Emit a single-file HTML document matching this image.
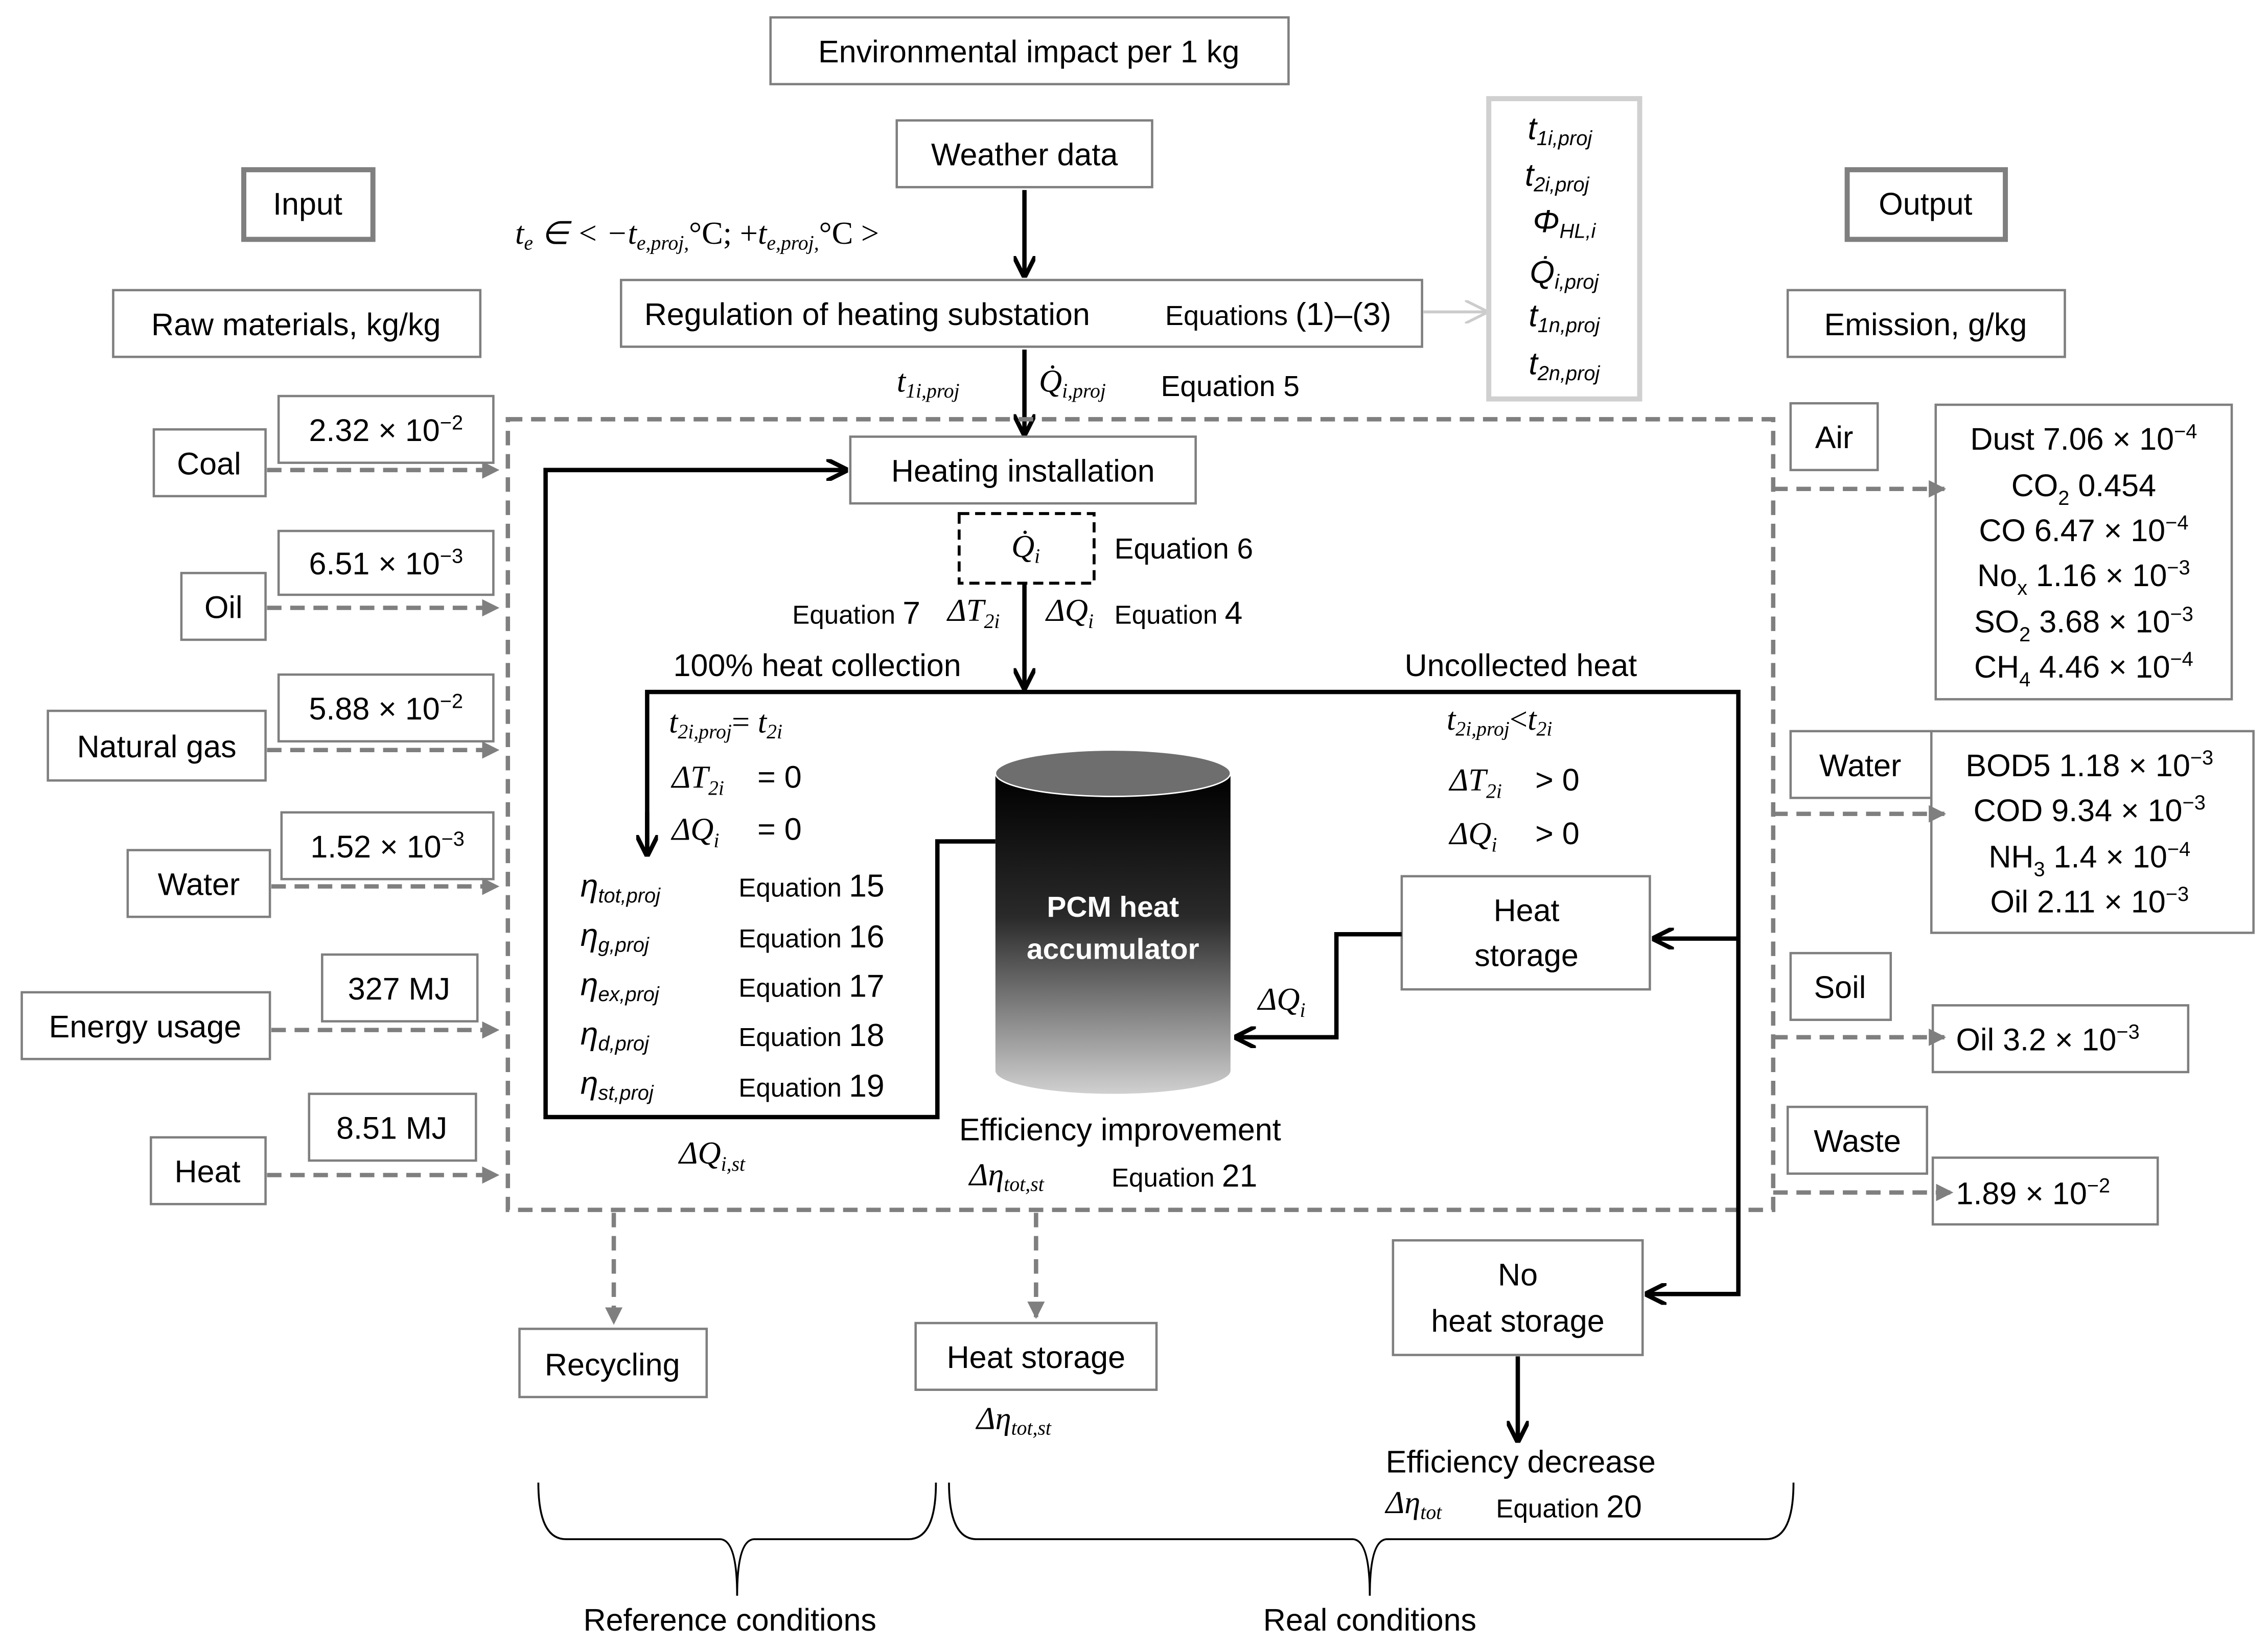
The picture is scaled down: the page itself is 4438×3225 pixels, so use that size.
<!DOCTYPE html>
<html><head><meta charset="utf-8"><style>
html,body{margin:0;padding:0;background:#fff}
svg{display:block}
text{font-family:"Liberation Sans",sans-serif;fill:#000}
.m{font-family:"Liberation Serif",serif;font-style:italic}
.b{fill:#fff;stroke:#7f7f7f;stroke-width:1.6}
.d{stroke:#7f7f7f;stroke-width:3;stroke-dasharray:10 6;fill:none}
.k{stroke:#000;stroke-width:3;fill:none}
</style></head><body>
<svg width="4438" height="3225" viewBox="0 0 1563 1136" preserveAspectRatio="none" xmlns="http://www.w3.org/2000/svg">
<defs>
<marker id="ak" viewBox="0 0 10 10" refX="9" refY="5" markerWidth="5" markerHeight="5" orient="auto"><path d="M0,0 L10,5 L0,10" fill="none" stroke="#000" stroke-width="2"/></marker>
<marker id="ag" viewBox="0 0 10 10" refX="9" refY="5" markerWidth="4" markerHeight="4" orient="auto"><path d="M0,0 L10,5 L0,10 z" fill="#7f7f7f"/></marker>
<marker id="al" viewBox="0 0 10 10" refX="9" refY="5" markerWidth="8" markerHeight="8" orient="auto"><path d="M0,0 L10,5 L0,10" fill="none" stroke="#ccc" stroke-width="1.2"/></marker>
<linearGradient id="cg" x1="0" y1="0" x2="0" y2="1"><stop offset="0" stop-color="#000"/><stop offset="0.45" stop-color="#2a2a2a"/><stop offset="1" stop-color="#d0d0d0"/></linearGradient>
</defs>
<g font-size="21.5">
<rect class="b" x="531" y="12" width="357" height="46"/><text x="709" y="43" text-anchor="middle">Environmental impact per 1 kg</text>
<rect class="b" x="618" y="83" width="176" height="46"/><text x="706" y="114" text-anchor="middle">Weather data</text>
<rect class="b" x="168" y="117" width="89" height="48" style="stroke-width:3.5"/><text x="212" y="148" text-anchor="middle">Input</text>
<rect class="b" x="1273" y="117" width="109" height="48" style="stroke-width:3.5"/><text x="1327" y="148" text-anchor="middle">Output</text>
<text x="355" y="168" class="m" font-size="22">t<tspan font-size="14" dy="4">e</tspan><tspan dy="-4"> ∈ &lt; −t</tspan><tspan font-size="14" dy="4">e,proj,</tspan><tspan dy="-4" font-style="normal">°C; +</tspan>t<tspan font-size="14" dy="4">e,proj,</tspan><tspan dy="-4" font-style="normal">°C &gt;</tspan></text>
<line class="k" x1="706" y1="131" x2="706" y2="190" marker-end="url(#ak)"/>
<rect class="b" x="428" y="193" width="552" height="46"/><text x="444" y="224">Regulation of heating substation</text><text x="803" y="224" font-size="19">Equations <tspan font-size="22">(1)–(3)</tspan></text>
<line x1="981" y1="215" x2="1024" y2="215" stroke="#ccc" stroke-width="2" marker-end="url(#al)"/>
<rect x="1026" y="68" width="104" height="207" fill="#fff" stroke="#d0d0d0" stroke-width="3.5"/>
<g class="m" font-size="22" text-anchor="middle">
<text x="1075" y="96">t<tspan font-size="14" dy="4">1i,proj</tspan></text>
<text x="1073" y="128">t<tspan font-size="14" dy="4">2i,proj</tspan></text>
<text x="1078" y="160">Φ<tspan font-size="14" dy="4">HL,i</tspan></text>
<text x="1078" y="195">Q̇<tspan font-size="14" dy="4">i,proj</tspan></text>
<text x="1078" y="225">t<tspan font-size="14" dy="4">1n,proj</tspan></text>
<text x="1078" y="258">t<tspan font-size="14" dy="4">2n,proj</tspan></text>
</g>
<rect class="b" x="78" y="200" width="253" height="46"/><text x="204" y="231" text-anchor="middle">Raw materials, kg/kg</text>
<rect class="b" x="1232" y="200" width="191" height="46"/><text x="1327" y="231" text-anchor="middle">Emission, g/kg</text>
<line class="k" x1="706" y1="241" x2="706" y2="299" marker-end="url(#ak)"/>
<text x="618" y="270" class="m" font-size="22">t<tspan font-size="14" dy="4">1i,proj</tspan></text>
<text x="716" y="270" class="m" font-size="22">Q̇<tspan font-size="14" dy="4">i,proj</tspan></text>
<text x="800" y="273" font-size="20">Equation 5</text>
<rect x="350" y="289" width="872" height="545" class="d"/>
<rect class="b" x="192" y="273" width="148" height="46"/><text x="266" y="304" text-anchor="middle">2.32 × 10<tspan font-size="14" dy="-8">−2</tspan></text>
<rect class="b" x="106" y="296" width="77" height="46"/><text x="144" y="327" text-anchor="middle">Coal</text>
<line class="d" x1="184" y1="324" x2="343" y2="324" marker-end="url(#ag)"/>
<rect class="b" x="192" y="366" width="148" height="44"/><text x="266" y="396" text-anchor="middle">6.51 × 10<tspan font-size="14" dy="-8">−3</tspan></text>
<rect class="b" x="125" y="395" width="58" height="46"/><text x="154" y="426" text-anchor="middle">Oil</text>
<line class="d" x1="184" y1="419" x2="343" y2="419" marker-end="url(#ag)"/>
<rect class="b" x="192" y="465" width="148" height="46"/><text x="266" y="496" text-anchor="middle">5.88 × 10<tspan font-size="14" dy="-8">−2</tspan></text>
<rect class="b" x="33" y="490" width="150" height="48"/><text x="108" y="522" text-anchor="middle">Natural gas</text>
<line class="d" x1="184" y1="517" x2="343" y2="517" marker-end="url(#ag)"/>
<rect class="b" x="194" y="560" width="146" height="46"/><text x="267" y="591" text-anchor="middle">1.52 × 10<tspan font-size="14" dy="-8">−3</tspan></text>
<rect class="b" x="88" y="586" width="98" height="46"/><text x="137" y="617" text-anchor="middle">Water</text>
<line class="d" x1="187" y1="611" x2="343" y2="611" marker-end="url(#ag)"/>
<rect class="b" x="222" y="658" width="107" height="46"/><text x="275" y="689" text-anchor="middle">327 MJ</text>
<rect class="b" x="15" y="684" width="171" height="46"/><text x="100" y="715" text-anchor="middle">Energy usage</text>
<line class="d" x1="187" y1="710" x2="343" y2="710" marker-end="url(#ag)"/>
<rect class="b" x="213" y="754" width="115" height="46"/><text x="270" y="785" text-anchor="middle">8.51 MJ</text>
<rect class="b" x="104" y="784" width="79" height="46"/><text x="143" y="815" text-anchor="middle">Heat</text>
<line class="d" x1="184" y1="810" x2="343" y2="810" marker-end="url(#ag)"/>
<rect class="b" x="1234" y="278" width="60" height="46"/><text x="1264" y="309" text-anchor="middle">Air</text>
<rect class="b" x="1334" y="279" width="204" height="203"/>
<g text-anchor="middle"><text x="1436" y="310">Dust 7.06 × 10<tspan font-size="14" dy="-8">−4</tspan></text>
<text x="1436" y="342">CO<tspan font-size="14" dy="6">2</tspan><tspan dy="-6"> 0.454</tspan></text>
<text x="1436" y="373">CO 6.47 × 10<tspan font-size="14" dy="-8">−4</tspan></text>
<text x="1436" y="404">No<tspan font-size="14" dy="6">x</tspan><tspan dy="-6"> 1.16 × 10</tspan><tspan font-size="14" dy="-8">−3</tspan></text>
<text x="1436" y="436">SO<tspan font-size="14" dy="6">2</tspan><tspan dy="-6"> 3.68 × 10</tspan><tspan font-size="14" dy="-8">−3</tspan></text>
<text x="1436" y="467">CH<tspan font-size="14" dy="6">4</tspan><tspan dy="-6"> 4.46 × 10</tspan><tspan font-size="14" dy="-8">−4</tspan></text></g>
<line class="d" x1="1222" y1="337" x2="1340" y2="337" marker-end="url(#ag)"/>
<rect class="b" x="1234" y="504" width="97" height="46"/><text x="1282" y="535" text-anchor="middle">Water</text>
<rect class="b" x="1331" y="504" width="222" height="139"/>
<g text-anchor="middle"><text x="1440" y="535">BOD5 1.18 × 10<tspan font-size="14" dy="-8">−3</tspan></text>
<text x="1440" y="566">COD 9.34 × 10<tspan font-size="14" dy="-8">−3</tspan></text>
<text x="1440" y="598">NH<tspan font-size="14" dy="6">3</tspan><tspan dy="-6"> 1.4 × 10</tspan><tspan font-size="14" dy="-8">−4</tspan></text>
<text x="1440" y="629">Oil 2.11 × 10<tspan font-size="14" dy="-8">−3</tspan></text></g>
<line class="d" x1="1222" y1="561" x2="1340" y2="561" marker-end="url(#ag)"/>
<rect class="b" x="1234" y="657" width="69" height="46"/><text x="1268" y="688" text-anchor="middle">Soil</text>
<rect class="b" x="1332" y="693" width="176" height="46"/><text x="1348" y="724">Oil 3.2 × 10<tspan font-size="14" dy="-8">−3</tspan></text>
<line class="d" x1="1222" y1="715" x2="1340" y2="715" marker-end="url(#ag)"/>
<rect class="b" x="1232" y="763" width="96" height="46"/><text x="1280" y="794" text-anchor="middle">Waste</text>
<rect class="b" x="1332" y="798" width="155" height="46"/><text x="1348" y="830">1.89 × 10<tspan font-size="14" dy="-8">−2</tspan></text>
<line class="d" x1="1222" y1="822" x2="1345" y2="822" marker-end="url(#ag)"/>
<rect class="b" x="586" y="301" width="238" height="46"/><text x="705" y="332" text-anchor="middle">Heating installation</text>
<rect x="661" y="354" width="93" height="48" fill="none" stroke="#000" stroke-width="2" stroke-dasharray="7 4"/>
<text x="697" y="384" class="m" font-size="22">Q̇<tspan font-size="14" dy="4">i</tspan></text>
<text x="768" y="385" font-size="20">Equation 6</text>
<line class="k" x1="706" y1="402" x2="706" y2="474" marker-end="url(#ak)"/>
<text x="546" y="430" font-size="18">Equation <tspan font-size="22">7</tspan></text>
<text x="653" y="428" class="m" font-size="22">ΔT<tspan font-size="14" dy="5">2i</tspan></text>
<text x="721" y="428" class="m" font-size="22">ΔQ<tspan font-size="14" dy="5">i</tspan></text>
<text x="768" y="430" font-size="18">Equation <tspan font-size="22">4</tspan></text>
<text x="464" y="466">100% heat collection</text>
<text x="968" y="466">Uncollected heat</text>
<polyline class="k" points="446,589 446,477 1198,477 1198,892 1135,892" marker-end="url(#ak)"/>
<line class="k" x1="446" y1="560" x2="446" y2="589" marker-end="url(#ak)"/>
<line class="k" x1="1198" y1="647" x2="1140" y2="647" marker-end="url(#ak)"/>
<text x="461" y="505" class="m" font-size="22">t<tspan font-size="14" dy="4">2i,proj</tspan><tspan dy="-4" font-style="normal">= </tspan>t<tspan font-size="14" dy="4">2i</tspan></text>
<text x="463" y="543" class="m" font-size="22">ΔT<tspan font-size="14" dy="5">2i</tspan></text><text x="522" y="543">= 0</text>
<text x="463" y="579" class="m" font-size="22">ΔQ<tspan font-size="14" dy="5">i</tspan></text><text x="522" y="579">= 0</text>
<text x="997" y="503" class="m" font-size="22">t<tspan font-size="14" dy="4">2i,proj</tspan><tspan dy="-4" font-style="normal">&lt;</tspan>t<tspan font-size="14" dy="4">2i</tspan></text>
<text x="999" y="545" class="m" font-size="22">ΔT<tspan font-size="14" dy="5">2i</tspan></text><text x="1058" y="545">&gt; 0</text>
<text x="999" y="582" class="m" font-size="22">ΔQ<tspan font-size="14" dy="5">i</tspan></text><text x="1058" y="582">&gt; 0</text>
<g class="m" font-size="22">
<text x="400" y="618">η<tspan font-size="14" dy="4">tot,proj</tspan></text>
<text x="400" y="652">η<tspan font-size="14" dy="4">g,proj</tspan></text>
<text x="400" y="686">η<tspan font-size="14" dy="4">ex,proj</tspan></text>
<text x="400" y="720">η<tspan font-size="14" dy="4">d,proj</tspan></text>
<text x="400" y="754">η<tspan font-size="14" dy="4">st,proj</tspan></text>
</g>
<g font-size="18"><text x="509" y="618">Equation <tspan font-size="22">15</tspan></text><text x="509" y="653">Equation <tspan font-size="22">16</tspan></text><text x="509" y="687">Equation <tspan font-size="22">17</tspan></text><text x="509" y="721">Equation <tspan font-size="22">18</tspan></text><text x="509" y="756">Equation <tspan font-size="22">19</tspan></text></g>
<polyline class="k" points="686,580 646,580 646,770 376,770 376,324 583,324" marker-end="url(#ak)"/>
<path d="M686,533 L686,738 A81,16 0 0 0 848,738 L848,533 Z" fill="url(#cg)"/>
<ellipse cx="767" cy="533" rx="81" ry="16" fill="#6e6e6e" stroke="#fff" stroke-width="1"/>
<text x="767" y="632" text-anchor="middle" font-weight="bold" font-size="20" style="fill:#fff">PCM heat</text>
<text x="767" y="661" text-anchor="middle" font-weight="bold" font-size="20" style="fill:#fff">accumulator</text>
<rect class="b" x="966" y="604" width="171" height="78"/><text x="1052" y="635" text-anchor="middle">Heat</text><text x="1052" y="666" text-anchor="middle">storage</text>
<polyline class="k" points="966,644 921,644 921,715 852,715" marker-end="url(#ak)"/>
<text x="867" y="696" class="m" font-size="22">ΔQ<tspan font-size="14" dy="5">i</tspan></text>
<text x="661" y="786">Efficiency improvement</text>
<text x="668" y="817" class="m" font-size="22">Δη<tspan font-size="14" dy="4">tot,st</tspan></text>
<text x="766" y="818" font-size="18">Equation <tspan font-size="22">21</tspan></text>
<text x="468" y="802" class="m" font-size="22">ΔQ<tspan font-size="14" dy="5">i,st</tspan></text>
<line class="d" x1="423" y1="836" x2="423" y2="912" marker-end="url(#ag)"/>
<line class="d" x1="714" y1="836" x2="714" y2="908" marker-end="url(#ag)"/>
<rect class="b" x="358" y="916" width="129" height="47"/><text x="422" y="948" text-anchor="middle">Recycling</text>
<rect class="b" x="631" y="912" width="166" height="46"/><text x="714" y="943" text-anchor="middle">Heat storage</text>
<text x="673" y="985" class="m" font-size="22">Δη<tspan font-size="14" dy="4">tot,st</tspan></text>
<rect class="b" x="960" y="855" width="172" height="79"/><text x="1046" y="886" text-anchor="middle">No</text><text x="1046" y="918" text-anchor="middle">heat storage</text>
<line class="k" x1="1046" y1="935" x2="1046" y2="993" marker-end="url(#ak)"/>
<text x="1048" y="1015" text-anchor="middle">Efficiency decrease</text>
<text x="955" y="1043" class="m" font-size="22">Δη<tspan font-size="14" dy="4">tot</tspan></text>
<text x="1031" y="1046" font-size="18">Equation <tspan font-size="22">20</tspan></text>
<path d="M371,1022 Q371,1061 390,1061 L496,1061 Q508,1061 508,1100 Q508,1061 520,1061 L626,1061 Q645,1061 645,1022" fill="none" stroke="#000" stroke-width="1.3"/>
<path d="M654,1022 Q654,1061 673,1061 L932,1061 Q944,1061 944,1100 Q944,1061 956,1061 L1217,1061 Q1236,1061 1236,1022" fill="none" stroke="#000" stroke-width="1.3"/>
<text x="503" y="1124" text-anchor="middle">Reference conditions</text>
<text x="944" y="1124" text-anchor="middle">Real conditions</text>
</g>
</svg>
</body></html>
